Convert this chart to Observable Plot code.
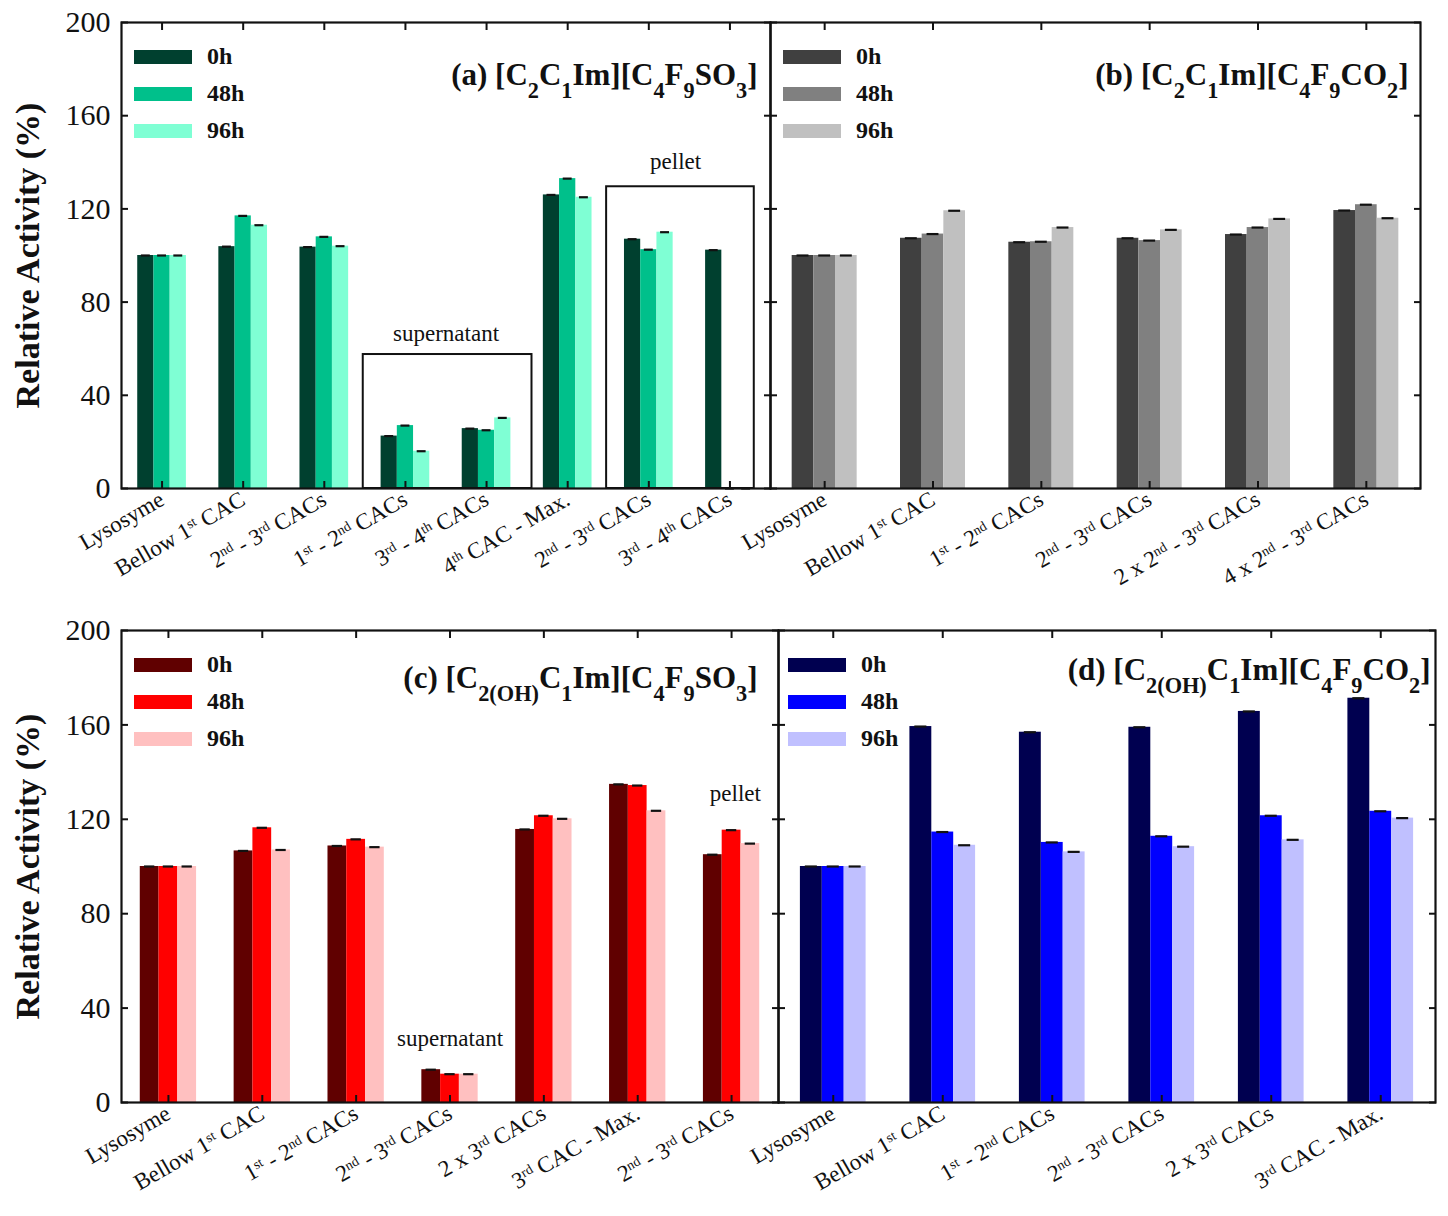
<!DOCTYPE html>
<html>
<head>
<meta charset="utf-8">
<script src="https://cdn.jsdelivr.net/npm/d3@7"></script>
<script src="https://cdn.jsdelivr.net/npm/@observablehq/plot@0.6"></script>
<style>
  body { margin: 0; background: #fff; }
  #fig { position: relative; width: 1448px; height: 1216px; font-family: "Liberation Serif", "DejaVu Serif", serif; }
  .panel { position: absolute; }
  .legend { position: absolute; font-size: 24px; font-weight: bold; color: #111; }
  .legend .row { display: flex; align-items: center; height: 37px; }
  .legend .sw { width: 58px; height: 14px; margin-right: 15px; }
</style>
</head>
<body>
<div id="fig"></div>
<script>
// series (time points)
const seriesNames = ["0h", "48h", "96h"];
const yTicks = [0, 40, 80, 120, 160, 200];

// (a) [C2C1Im][C4F9SO3]
const catsA = ["Lysosyme", "Bellow 1^{st} CAC", "2^{nd} - 3^{rd} CACs", "1^{st} - 2^{nd} CACs",
  "3^{rd} - 4^{th} CACs", "4^{th} CAC - Max.", "2^{nd} - 3^{rd} CACs", "3^{rd} - 4^{th} CACs"];
const a0h  = [100, 103.8, 103.6, 22.5, 25.7, 126, 107, 102.3];
const a48h = [100, 117, 108, 27, 25, 133, 102.5, 0];
const a96h = [100, 113, 104, 16, 30.3, 125, 110, 0];

// (b) [C2C1Im][C4F9CO2]
const catsB = ["Lysosyme", "Bellow 1^{st} CAC", "1^{st} - 2^{nd} CACs", "2^{nd} - 3^{rd} CACs",
  "2 x 2^{nd} - 3^{rd} CACs", "4 x 2^{nd} - 3^{rd} CACs"];
const b0h  = [100, 107.4, 105.7, 107.4, 109, 119.3];
const b48h = [100, 109.2, 105.9, 106.4, 112, 121.8];
const b96h = [100, 119.2, 112, 111, 115.7, 116];

// (c) [C2(OH)C1Im][C4F9SO3]
const catsC = ["Lysosyme", "Bellow 1^{st} CAC", "1^{st} - 2^{nd} CACs", "2^{nd} - 3^{rd} CACs",
  "2 x 3^{rd} CACs", "3^{rd} CAC - Max.", "2^{nd} - 3^{rd} CACs"];
const c0h  = [100, 106.6, 108.7, 13.9, 115.7, 134.8, 105];
const c48h = [100, 116.4, 111.5, 12, 121.5, 134.3, 115.4];
const c96h = [100, 107, 108.2, 12, 120.2, 123.6, 109.7];

// (d) [C2(OH)C1Im][C4F9CO2]
const catsD = ["Lysosyme", "Bellow 1^{st} CAC", "1^{st} - 2^{nd} CACs", "2^{nd} - 3^{rd} CACs",
  "2 x 3^{rd} CACs", "3^{rd} CAC - Max."];
const d0h  = [100, 159.3, 156.9, 159, 165.7, 171.3];
const d48h = [100, 114.6, 110.2, 112.8, 121.5, 123.4];
const d96h = [100, 109, 106.2, 108.4, 111.3, 120.5];

const serif = "'Liberation Serif', 'DejaVu Serif', serif";

// turn ^{..} and _{..} into raised / lowered tspans
function richText(svg) {
  d3.select(svg).selectAll("text").each(function () {
    const s = this.textContent;
    if (!/[_^]\{/.test(s)) return;
    const el = d3.select(this);
    el.text(null);
    for (const m of s.matchAll(/([_^])\{([^}]*)\}|[^_^]+/g)) {
      const t = el.append("tspan");
      if (m[1]) t.attr("baseline-shift", m[1] === "^" ? "super" : "sub").attr("font-size", m[1] === "^" ? "60%" : "72%").text(m[2]);
      else t.text(m[0]);
    }
  });
}

function drawPanel(p) {
  const n = p.cats.length;
  const rows = [];
  p.cats.forEach((cat, i) => p.values.forEach((vals, j) =>
    rows.push({i, j, cat, series: seriesNames[j], value: vals[i]})));
  const centers = p.cats.map((_, i) => i + 0.5);
  const [fl, ft, fr, fb] = p.frame;
  const m = p.margin;
  const svgLeft = fl - m.left, svgTop = ft - m.top;

  const chart = Plot.plot({
    width: m.left + (fr - fl) + m.right,
    height: m.top + (fb - ft) + m.bottom,
    marginLeft: m.left, marginRight: m.right, marginTop: m.top, marginBottom: m.bottom,
    x: {domain: [0, n]},
    y: {domain: [0, 200]},
    color: {domain: seriesNames, range: p.colors},
    style: {background: "none", overflow: "visible", fontFamily: serif, color: "#111"},
    marks: [
      Plot.rect(rows, {x1: d => d.i + 0.2 + 0.2 * d.j, x2: d => d.i + 0.4 + 0.2 * d.j, y1: 0, y2: "value", fill: "series"}),
      Plot.ruleY(rows, {y: "value", x1: d => d.i + 0.245 + 0.2 * d.j, x2: d => d.i + 0.355 + 0.2 * d.j, stroke: "#111", strokeWidth: 2.2}),
      Plot.rect(p.boxes || [], {x1: "x1", x2: "x2", y1: 0, y2: "top", fill: "none", stroke: "#111", strokeWidth: 2}),
      Plot.text(p.notes || [], {x: "x", y: "y", text: "label", fontSize: 23, fill: "#111"}),
      Plot.frame({stroke: "#111", strokeWidth: 2.2}),
      Plot.axisY(yTicks, {anchor: "left", tickSize: -7, tickPadding: 18, strokeWidth: 2, fontSize: 30, label: null,
        tickFormat: p.yLabels ? d => d : () => ""}),
      Plot.axisY(yTicks, {anchor: "right", tickSize: -7, strokeWidth: 2, tickFormat: () => "", label: null}),
      Plot.axisX(centers, {anchor: "bottom", tickSize: -7, tickPadding: 16, strokeWidth: 2, tickRotate: -30, fontSize: 23,
        tickFormat: d => p.cats[Math.floor(d)], label: null}),
      Plot.axisX(centers, {anchor: "top", tickSize: -7, strokeWidth: 2, tickFormat: () => "", label: null}),
      Plot.text([p.title], {text: d => d, frameAnchor: "top-right", textAnchor: "end", dx: p.titleDx, dy: p.titleDy,
        fontSize: 31, fontWeight: "bold", fill: "#111"}),
      p.yLabels ? Plot.text(["Relative Activity (%)"], {text: d => d, frameAnchor: "left", textAnchor: "middle", rotate: -90, dx: -93,
        fontSize: 34, fontWeight: "bold", fill: "#111"}) : null
    ]
  });
  richText(chart);

  const div = d3.select("#fig").append("div").attr("class", "panel")
    .style("left", svgLeft + "px").style("top", svgTop + "px");
  div.append(() => chart);

  const legend = div.append("div").attr("class", "legend")
    .style("left", (fl - svgLeft + p.legendDx) + "px").style("top", (ft - svgTop + 16) + "px");
  seriesNames.forEach((s, j) => {
    const row = legend.append("div").attr("class", "row");
    row.append("div").attr("class", "sw").style("background", p.colors[j]);
    row.append("span").text(s);
  });
}

drawPanel({
  cats: catsA, values: [a0h, a48h, a96h], colors: ["#00402f", "#00c08b", "#7fffd4"],
  title: "(a) [C_{2}C_{1}Im][C_{4}F_{9}SO_{3}]", titleDx: -13, titleDy: 40, yLabels: true,
  frame: [121, 22, 770, 488], margin: {left: 121, right: 12, top: 22, bottom: 116}, legendDx: 13,
  boxes: [{x1: 2.98, x2: 5.06, top: 57.5}, {x1: 5.98, x2: 7.8, top: 129.5}],
  notes: [{label: "supernatant", x: 4.0, y: 66.5}, {label: "pellet", x: 6.83, y: 140.3}]
});
drawPanel({
  cats: catsB, values: [b0h, b48h, b96h], colors: ["#404040", "#808080", "#c0c0c0"],
  title: "(b) [C_{2}C_{1}Im][C_{4}F_{9}CO_{2}]", titleDx: -12, titleDy: 40, yLabels: false,
  frame: [770, 22, 1420, 488], margin: {left: 80, right: 20, top: 22, bottom: 116}, legendDx: 13
});
drawPanel({
  cats: catsC, values: [c0h, c48h, c96h], colors: ["#600000", "#ff0000", "#ffc0c0"],
  title: "(c) [C_{2(OH)}C_{1}Im][C_{4}F_{9}SO_{3}]", titleDx: -21, titleDy: 35, yLabels: true,
  frame: [121, 630, 778, 1102], margin: {left: 121, right: 12, top: 22, bottom: 112}, legendDx: 13,
  notes: [{label: "supernatant", x: 3.5, y: 27}, {label: "pellet", x: 6.54, y: 131}]
});
drawPanel({
  cats: catsD, values: [d0h, d48h, d96h], colors: ["#000050", "#0000ff", "#c0c0ff"],
  title: "(d) [C_{2(OH)}C_{1}Im][C_{4}F_{9}CO_{2}]", titleDx: -5, titleDy: 27, yLabels: false,
  frame: [778, 630, 1435, 1102], margin: {left: 80, right: 13, top: 22, bottom: 112}, legendDx: 10
});
</script>
</body>
</html>
